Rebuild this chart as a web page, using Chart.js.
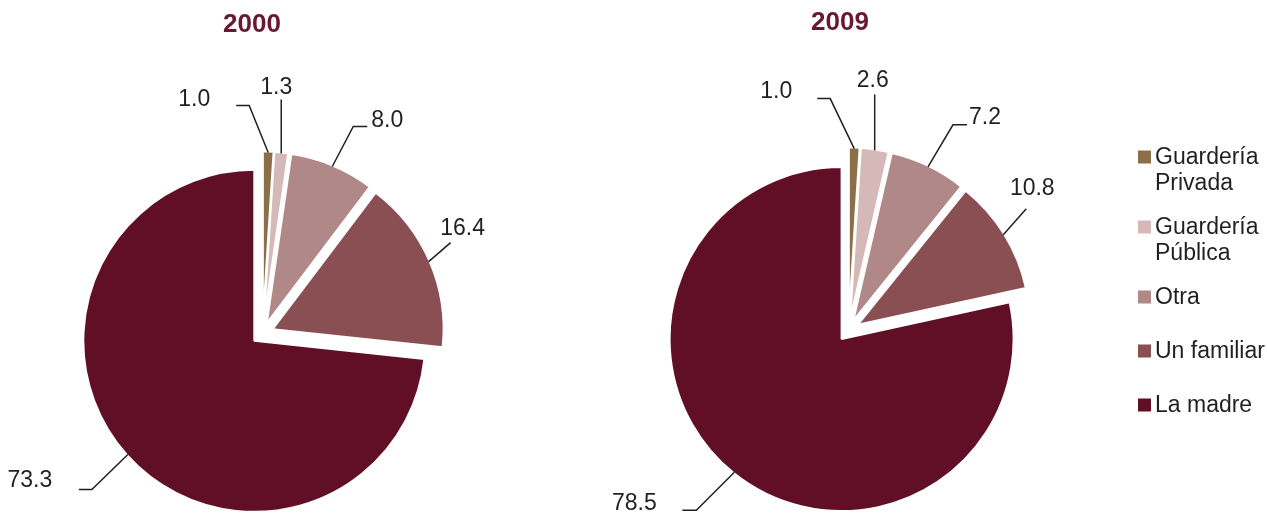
<!DOCTYPE html>
<html lang="es">
<head>
<meta charset="utf-8">
<script src="https://cdn.jsdelivr.net/npm/chart.js@4.4.1/dist/chart.umd.min.js"></script>
<style>
  html, body { margin: 0; padding: 0; background: #fff; }
  #lienzo { position: relative; width: 1267px; height: 513px; overflow: hidden; }
  #lienzo canvas { position: absolute; top: 0; }
  #graf2000 { left: 0; }
  #graf2009 { left: 560px; }
</style>
</head>
<body>
<div id="lienzo">
  <canvas id="graf2000" width="560" height="513"></canvas>
  <canvas id="graf2009" width="707" height="513"></canvas>
</div>
<script>
// datos
const categorias = ["Guardería Privada", "Guardería Pública", "Otra", "Un familiar", "La madre"];
const anios = ["2000", "2009"];
const valores2000 = [1.0, 1.3, 8.0, 16.4, 73.3];
const valores2009 = [1.0, 2.6, 7.2, 10.8, 78.5];

// estilo
const colores = ["#8B7047", "#D5B9B9", "#B08888", "#8A4F53", "#600F26"];
const tinta = "#231F20";
const guinda = "#6A1730";
const fuente = '"Liberation Sans", Arial, Helvetica, sans-serif';
const separacion = 11; // cada porcion se separa del centro

// lineas guia: puntos relativos al borde de la porcion, y centro del texto
const guias2000 = [
  { ruta: [[-19, -47], [-32, -47]], texto: [-74, -53] },
  { ruta: [[0, -54]], texto: [-5, -66] },
  { ruta: [[21, -40], [35, -40]], texto: [55, -46] },
  { ruta: [[22, -19]], texto: [34, -33] },
  { ruta: [[-36, 35], [-49, 35]], texto: [-98, 26] }
];
const guias2009 = [
  { ruta: [[-24, -50], [-37, -50]], texto: [-78, -57] },
  { ruta: [[0, -56]], texto: [-2, -70] },
  { ruta: [[25, -42], [39, -42]], texto: [57, -49] },
  { ruta: [[23, -26]], texto: [29, -46] },
  { ruta: [[-38, 38], [-52, 38]], texto: [-100, 31] }
];

// dibuja cada porcion desplazada sobre su angulo medio
const porcionesSeparadas = {
  id: "porcionesSeparadas",
  beforeDatasetDraw(chart, args) {
    const ctx = chart.ctx;
    args.meta.data.forEach(arco => {
      const { startAngle, endAngle } = arco.getProps(["startAngle", "endAngle"]);
      const medio = (startAngle + endAngle) / 2;
      ctx.save();
      ctx.translate(Math.cos(medio) * separacion, Math.sin(medio) * separacion);
      arco.draw(ctx);
      ctx.restore();
    });
    return false;
  }
};

const envolver = (ctx, texto, ancho) => {
  const palabras = texto.split(" ");
  const lineas = [];
  let actual = "";
  palabras.forEach(p => {
    const prueba = actual ? actual + " " + p : p;
    if (actual && ctx.measureText(prueba).width > ancho) {
      lineas.push(actual);
      actual = p;
    } else {
      actual = prueba;
    }
  });
  lineas.push(actual);
  return lineas;
};

const crearEtiquetas = cfg => ({
  id: "etiquetas",
  afterDraw(chart) {
    const ctx = chart.ctx;
    const arcos = chart.getDatasetMeta(0).data;
    const valores = chart.data.datasets[0].data;
    ctx.save();
    ctx.textAlign = "center";
    ctx.textBaseline = "middle";
    ctx.font = "bold 26px " + fuente;
    ctx.fillStyle = guinda;
    ctx.fillText(cfg.titulo, cfg.tituloX, cfg.tituloY);

    ctx.font = "23px " + fuente;
    ctx.fillStyle = tinta;
    ctx.strokeStyle = tinta;
    ctx.lineWidth = 1.5;
    arcos.forEach((arco, i) => {
      const { x, y, startAngle, endAngle, outerRadius } =
        arco.getProps(["x", "y", "startAngle", "endAngle", "outerRadius"]);
      const medio = (startAngle + endAngle) / 2;
      const r = outerRadius + separacion - 1;
      const ax = x + Math.cos(medio) * r;
      const ay = y + Math.sin(medio) * r;
      const guia = cfg.guias[i];
      ctx.beginPath();
      ctx.moveTo(ax, ay);
      guia.ruta.forEach(([dx, dy]) => ctx.lineTo(ax + dx, ay + dy));
      ctx.stroke();
      ctx.fillText(valores[i].toFixed(1), ax + guia.texto[0], ay + guia.texto[1]);
    });

    if (cfg.leyenda) {
      const { x0, y0 } = cfg.leyenda;
      let yy = y0;
      ctx.textAlign = "left";
      chart.data.labels.forEach((nombre, i) => {
        ctx.fillStyle = colores[i];
        ctx.fillRect(x0, yy - 6.5, 13, 13);
        ctx.fillStyle = tinta;
        const lineas = envolver(ctx, nombre, 118);
        lineas.forEach((l, k) => ctx.fillText(l, x0 + 17, yy + 1 + k * 26));
        yy += 38 + 16 * lineas.length;
      });
    }
    ctx.restore();
  }
});

const pintarPastel = (id, valores, cfg) => {
  const lienzo = document.getElementById(id);
  new Chart(lienzo, {
    type: "pie",
    data: {
      labels: categorias,
      datasets: [{
        data: valores,
        backgroundColor: colores,
        borderColor: "#ffffff",
        borderWidth: 2,
        hoverOffset: 0,
        clip: false
      }]
    },
    options: {
      responsive: false,
      animation: false,
      events: [],
      radius: cfg.radio,
      layout: {
        padding: {
          left: 0,
          top: 2 * cfg.centroY - lienzo.height,
          right: lienzo.width - 2 * cfg.centroX,
          bottom: 0
        }
      },
      plugins: {
        legend: { display: false },
        tooltip: { enabled: false }
      }
    },
    plugins: [porcionesSeparadas, crearEtiquetas(cfg)]
  });
};

pintarPastel("graf2000", valores2000, {
  titulo: anios[0], tituloX: 252, tituloY: 25,
  centroX: 262.5, centroY: 333.5, radio: 171,
  guias: guias2000
});
pintarPastel("graf2009", valores2009, {
  titulo: anios[1], tituloX: 280, tituloY: 23,
  centroX: 288.5, centroY: 330.5, radio: 172,
  guias: guias2009,
  leyenda: { x0: 578, y0: 157 }
});
</script>
</body>
</html>
